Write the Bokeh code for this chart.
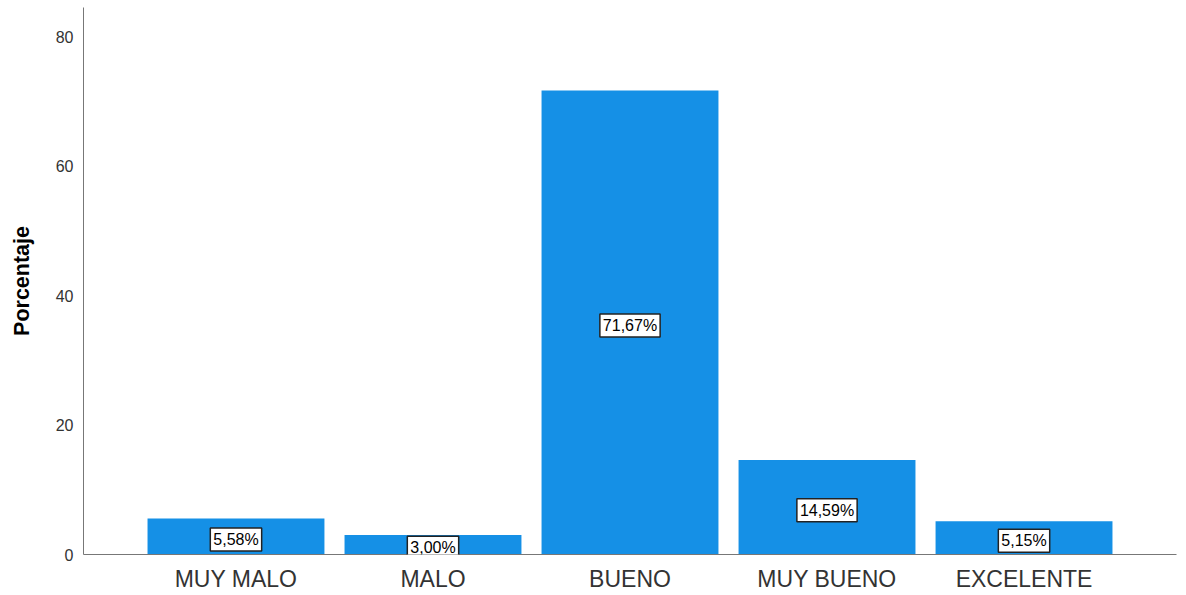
from bokeh.plotting import figure
from bokeh.models import ColumnDataSource, Label, Range1d, FixedTicker
from bokeh.embed import file_html
from bokeh.resources import INLINE

categories = ["MUY MALO", "MALO", "BUENO", "MUY BUENO", "EXCELENTE"]
values = [5.58, 3.00, 71.67, 14.59, 5.15]
value_labels = ["5,58%", "3,00%", "71,67%", "14,59%", "5,15%"]
y_ticks = [0, 20, 40, 60, 80]

xs = list(range(len(categories)))
src = ColumnDataSource(dict(x=xs, top=values))

p = figure(width=1178, height=594, output_backend="svg", toolbar_location=None,
           x_range=Range1d(-0.774, 4.774), y_range=Range1d(0, 84.5),
           min_border_left=83, min_border_right=2, min_border_top=7, min_border_bottom=40)
p.outline_line_color = None
p.grid.visible = False

p.vbar(x="x", top="top", width=0.898, source=src, fill_color="#1590E6",
       line_color=None)

for xi, v, lab in zip(xs, values, value_labels):
    p.add_layout(Label(x=xi, y=v / 2, text=lab, y_offset=-3,
                       text_align="center", text_baseline="middle",
                       text_font="Liberation Sans", text_font_size="16px",
                       text_color="#000000",
                       background_fill_color="white", border_line_color="#222222",
                       border_line_width=1.5, padding=3))

p.xaxis.ticker = FixedTicker(ticks=xs)
p.xaxis.major_label_overrides = {i: c for i, c in zip(xs, categories)}
p.yaxis.ticker = FixedTicker(ticks=y_ticks)

for ax in (p.xaxis[0], p.yaxis[0]):
    ax.axis_line_color = "#777777"
    ax.axis_line_width = 1
    ax.major_tick_out = 0
    ax.major_tick_in = 0
    ax.minor_tick_out = 0
    ax.minor_tick_in = 0
    ax.major_label_text_font = "Liberation Sans"
    ax.major_label_text_color = "#333333"

p.xaxis.major_label_text_font_size = "23px"
p.xaxis.major_label_standoff = 11
p.yaxis.major_label_text_font_size = "16px"
p.yaxis.major_label_standoff = 10
p.yaxis.axis_label = "Porcentaje"
p.yaxis.axis_label_text_font = "Liberation Sans"
p.yaxis.axis_label_text_font_size = "21.5px"
p.yaxis.axis_label_text_font_style = "bold"
p.yaxis.axis_label_text_color = "#000000"
p.yaxis.axis_label_standoff = 19

open("out.html", "w").write(file_html(p, INLINE))
